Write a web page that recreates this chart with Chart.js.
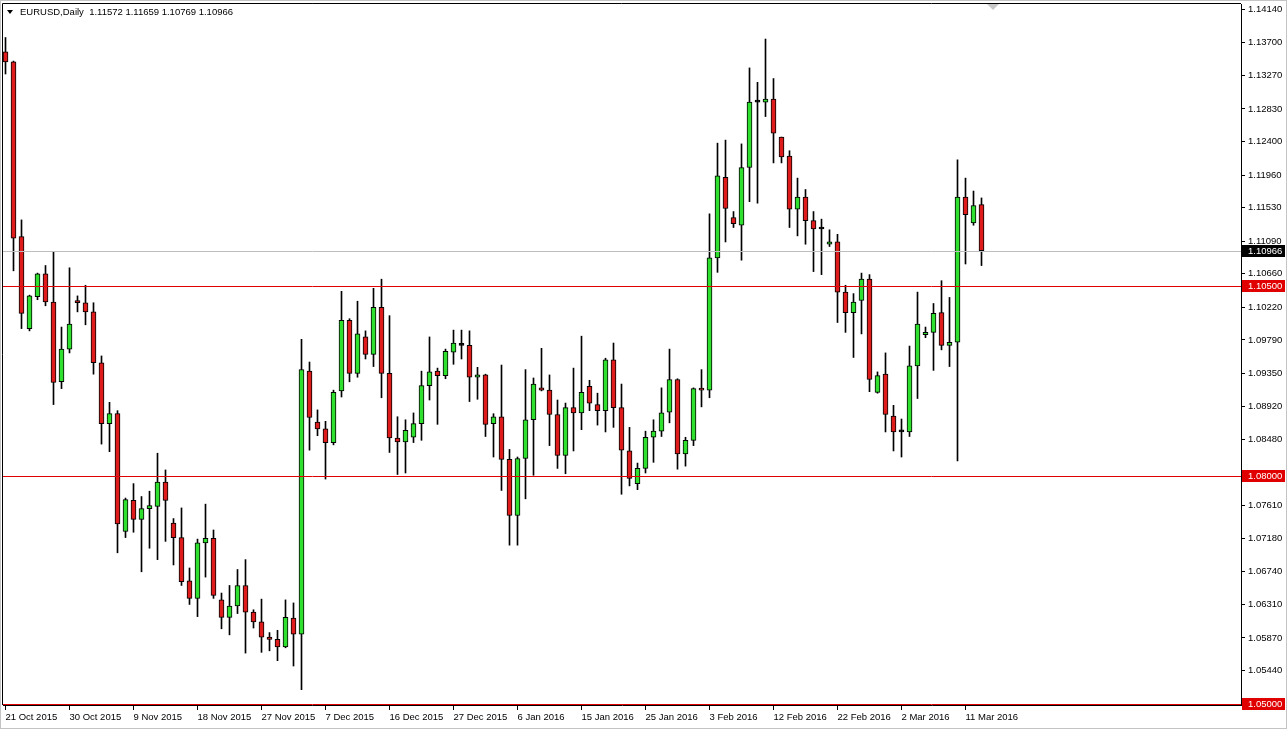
<!DOCTYPE html>
<html>
<head>
<meta charset="utf-8">
<title>EURUSD Daily</title>
<script src="https://cdn.jsdelivr.net/npm/chart.js@4/dist/chart.umd.min.js"></script>
<style>
  html, body { margin: 0; padding: 0; background: #fff; }
  #wrap { width: 1287px; height: 729px; }
</style>
</head>
<body>
<div id="wrap"><canvas id="chart" width="1287" height="729"></canvas></div>
<script>
// EURUSD daily candles, 21 Oct 2015 .. 14 Mar 2016 (MT4 with Sunday bars)
const opens = [
  1.1358, 1.1345, 1.1115, 1.0994, 1.1036, 1.1066, 1.1029, 1.0924, 1.0967, 1.1031,
  1.1028, 1.1016, 1.0949, 1.0869, 1.0882, 1.0727, 1.0768, 1.0743, 1.0757, 1.0760,
  1.0792, 1.0738, 1.0719, 1.0662, 1.0639, 1.0712, 1.0718, 1.0637, 1.0614, 1.0629,
  1.0656, 1.0621, 1.0608, 1.0588, 1.0585, 1.0575, 1.0613, 1.0592, 1.0938, 1.0871,
  1.0862, 1.0844, 1.0912, 1.1005, 1.0935, 1.0983, 1.0960, 1.1022, 1.0935, 1.0850,
  1.0845, 1.0851, 1.0869, 1.0919, 1.0938, 1.0932, 1.0963, 1.0972, 1.0972, 1.0930,
  1.0933, 1.0869, 1.0878, 1.0822, 1.0748, 1.0823, 1.0874, 1.0916, 1.0913, 1.0881,
  1.0827, 1.0890, 1.0883, 1.0918, 1.0894, 1.0886, 1.0953, 1.0890, 1.0833, 1.0790,
  1.0810, 1.0851, 1.0859, 1.0884, 1.0927, 1.0829, 1.0847, 1.0915, 1.0913, 1.1087,
  1.1193, 1.1140, 1.1130, 1.1206, 1.1292, 1.1292, 1.1296, 1.1246, 1.1221, 1.1151,
  1.1167, 1.1136, 1.1125, 1.1105, 1.1108, 1.1042, 1.1015, 1.1031, 1.1059, 1.0910,
  1.0934, 1.0879, 1.0858, 1.0858, 1.0945, 1.0986, 1.0989, 1.1015, 1.0972, 1.0976,
  1.1167, 1.1133, 1.11572
];
const highs = [
  1.1377, 1.1346, 1.1137, 1.1038, 1.1067, 1.1077, 1.1095, 1.0996, 1.1074, 1.1037,
  1.1051, 1.1028, 1.0958, 1.0897, 1.0886, 1.0771, 1.0790, 1.0773, 1.0780, 1.0830,
  1.0808, 1.0744, 1.0758, 1.0679, 1.0717, 1.0763, 1.0729, 1.0646, 1.0656, 1.0677,
  1.0690, 1.0624, 1.0638, 1.0594, 1.0597, 1.0637, 1.0633, 1.0980, 1.0950, 1.0887,
  1.0872, 1.0913, 1.1043, 1.1007, 1.1030, 1.0991, 1.1047, 1.1059, 1.1011, 1.0878,
  1.0874, 1.0883, 1.0938, 1.0983, 1.0942, 1.0967, 1.0992, 1.0992, 1.0991, 1.0943,
  1.0934, 1.0882, 1.0946, 1.0835, 1.0825, 1.0940, 1.0929, 1.0968, 1.0933, 1.0900,
  1.0896, 1.0942, 1.0984, 1.0926, 1.0909, 1.0955, 1.0975, 1.0921, 1.0864, 1.0817,
  1.0859, 1.0874, 1.0916, 1.0967, 1.0928, 1.0851, 1.0916, 1.0940, 1.1145, 1.1238,
  1.1242, 1.1148, 1.1237, 1.1337, 1.1318, 1.1375, 1.1323, 1.1246, 1.1228, 1.1192,
  1.1177, 1.1148, 1.1138, 1.1124, 1.1118, 1.1051, 1.1040, 1.1067, 1.1065, 1.0937,
  1.0962, 1.0893, 1.0875, 1.0971, 1.1042, 1.0996, 1.1027, 1.1057, 1.1035, 1.1216,
  1.1192, 1.1175, 1.11659
];
const lows = [
  1.1329, 1.1070, 1.0994, 1.0991, 1.1032, 1.1024, 1.0894, 1.0915, 1.0962, 1.1016,
  1.0999, 1.0934, 1.0842, 1.0832, 1.0699, 1.0719, 1.0726, 1.0674, 1.0705, 1.0690,
  1.0714, 1.0683, 1.0656, 1.0631, 1.0615, 1.0667, 1.0639, 1.0599, 1.0591, 1.0619,
  1.0567, 1.0600, 1.0568, 1.0570, 1.0557, 1.0574, 1.0550, 1.0519, 1.0834, 1.0853,
  1.0796, 1.0841, 1.0904, 1.0924, 1.0930, 1.0954, 1.0944, 1.0903, 1.0831, 1.0802,
  1.0804, 1.0844, 1.0847, 1.0900, 1.0868, 1.0928, 1.0947, 1.0954, 1.0898, 1.0901,
  1.0852, 1.0825, 1.0781, 1.0709, 1.0709, 1.0770, 1.0801, 1.0912, 1.0840, 1.0810,
  1.0803, 1.0833, 1.0861, 1.0886, 1.0867, 1.0858, 1.0864, 1.0776, 1.0787, 1.0782,
  1.0804, 1.0818, 1.0852, 1.0870, 1.0809, 1.0813, 1.0840, 1.0891, 1.0903, 1.1068,
  1.1108, 1.1127, 1.1084, 1.1161, 1.1159, 1.1273, 1.1212, 1.1212, 1.1127, 1.1116,
  1.1105, 1.1069, 1.1065, 1.1102, 1.1002, 1.0989, 1.0956, 1.0987, 1.0911, 1.0909,
  1.0858, 1.0833, 1.0825, 1.0852, 1.0902, 1.0982, 1.0939, 1.0966, 1.0944, 1.0820,
  1.1079, 1.1130, 1.10769
];
const closes = [
  1.1345, 1.1113, 1.1014, 1.1037, 1.1066, 1.1029, 1.0923, 1.0967, 1.1000, 1.1028,
  1.1016, 1.0949, 1.0869, 1.0882, 1.0737, 1.0769, 1.0743, 1.0757, 1.0761, 1.0792,
  1.0768, 1.0719, 1.0661, 1.0639, 1.0712, 1.0718, 1.0643, 1.0614, 1.0629, 1.0656,
  1.0621, 1.0608, 1.0588, 1.0585, 1.0575, 1.0614, 1.0592, 1.0940, 1.0877, 1.0862,
  1.0844, 1.0910, 1.1005, 1.0935, 1.0987, 1.0960, 1.1022, 1.0935, 1.0850, 1.0845,
  1.0860, 1.0869, 1.0919, 1.0937, 1.0932, 1.0964, 1.0975, 1.0972, 1.0930, 1.0933,
  1.0868, 1.0878, 1.0822, 1.0748, 1.0823, 1.0874, 1.0921, 1.0913, 1.0881, 1.0827,
  1.0890, 1.0883, 1.0910, 1.0896, 1.0886, 1.0953, 1.0890, 1.0834, 1.0797, 1.0810,
  1.0851, 1.0859, 1.0883, 1.0927, 1.0829, 1.0847, 1.0915, 1.0913, 1.1087, 1.1195,
  1.1152, 1.1132, 1.1206, 1.1292, 1.1292, 1.1296, 1.1251, 1.1220, 1.1151, 1.1167,
  1.1136, 1.1125, 1.1125, 1.1108, 1.1042, 1.1015, 1.1029, 1.1059, 1.0927, 1.0932,
  1.0881, 1.0858, 1.0858, 1.0945, 1.1000, 1.0989, 1.1014, 1.0972, 1.0976, 1.1167,
  1.1144, 1.1156, 1.10966
];

const dateLabels = [
  "21 Oct 2015", "30 Oct 2015", "9 Nov 2015", "18 Nov 2015", "27 Nov 2015",
  "7 Dec 2015", "16 Dec 2015", "27 Dec 2015", "6 Jan 2016", "15 Jan 2016",
  "25 Jan 2016", "3 Feb 2016", "12 Feb 2016", "22 Feb 2016", "2 Mar 2016", "11 Mar 2016"
];
const priceTicks = [
  1.14140, 1.13700, 1.13270, 1.12830, 1.12400, 1.11960, 1.11530, 1.11090, 1.10660,
  1.10220, 1.09790, 1.09350, 1.08920, 1.08480, 1.07610, 1.07180, 1.06740,
  1.06310, 1.05870, 1.05440
];
const levels = [1.10500, 1.08000, 1.05000];
const bidPrice = 1.10966;
const header = "EURUSD,Daily  1.11572 1.11659 1.10769 1.10966";

const UP = "#2fe02f", DOWN = "#df1c1c", FONT = "'Liberation Sans', Arial, sans-serif";

let bodyColors = opens.map(function (o, i) {
  if (closes[i] > o) return UP;
  if (closes[i] < o) return DOWN;
  return "#000";
});

// mt4-ish decorations: frame, horizontal levels, price boxes, header
const mt4Plugin = {
  id: "mt4",
  beforeDraw(chart) {
    let ctx = chart.ctx;
    ctx.save();
    ctx.fillStyle = "#fff";
    ctx.fillRect(0, 0, chart.width, chart.height);
    ctx.strokeStyle = "#c4c4c4";
    ctx.lineWidth = 1;
    ctx.strokeRect(0.5, 0.5, chart.width - 1, chart.height - 1);
    ctx.restore();
  },
  afterDatasetsDraw(chart) {
    let ctx = chart.ctx, a = chart.chartArea, y = chart.scales.y;
    ctx.save();
    ctx.lineWidth = 1;
    let by = Math.round(y.getPixelForValue(bidPrice)) + 0.5;
    ctx.strokeStyle = "#bdbdbd";
    ctx.beginPath(); ctx.moveTo(a.left, by); ctx.lineTo(a.right, by); ctx.stroke();
    ctx.strokeStyle = "#e00000";
    levels.forEach(function (v) {
      let py = Math.round(y.getPixelForValue(v)) + 0.5;
      ctx.beginPath(); ctx.moveTo(a.left, py); ctx.lineTo(a.right, py); ctx.stroke();
    });
    ctx.restore();
  },
  afterDraw(chart) {
    let ctx = chart.ctx, a = chart.chartArea, y = chart.scales.y;
    ctx.save();
    // top + left frame
    ctx.strokeStyle = "#000";
    ctx.lineWidth = 1;
    ctx.beginPath();
    ctx.moveTo(a.left - 0.5, a.bottom); ctx.lineTo(a.left - 0.5, a.top - 0.5); ctx.lineTo(a.right, a.top - 0.5);
    ctx.stroke();

    // price boxes on the right axis
    ctx.font = "9.5px " + FONT;
    ctx.textBaseline = "middle";
    function box(v, bg) {
      let py = Math.round(y.getPixelForValue(v));
      ctx.fillStyle = bg;
      ctx.fillRect(a.right + 1, py - 6, 43, 12);
      ctx.fillStyle = "#fff";
      ctx.fillText(v.toFixed(5), a.right + 7, py + 0.5);
    }
    levels.forEach(function (v) { box(v, "#e00000"); });
    box(bidPrice, "#000");

    // header line
    ctx.fillStyle = "#000";
    ctx.beginPath(); ctx.moveTo(7, 10); ctx.lineTo(13, 10); ctx.lineTo(10, 14); ctx.closePath(); ctx.fill();
    ctx.fillText(header, 20, 12.5);

    // chart shift marker
    ctx.fillStyle = "#c8c8c8";
    ctx.beginPath(); ctx.moveTo(987, 4); ctx.lineTo(999, 4); ctx.lineTo(993, 10); ctx.closePath(); ctx.fill();
    ctx.restore();
  },
};

let ctx = document.getElementById("chart").getContext("2d");
window.candleChart = new Chart(ctx, {
  type: "bar",
  data: {
    datasets: [
      {
        label: "body",
        data: opens.map((o, i) => ({ x: i, y: [o, closes[i]] })),
        backgroundColor: bodyColors,
        borderColor: "#000",
        borderWidth: 1,
        borderSkipped: false,
        barThickness: 5,
        minBarLength: 2,
        grouped: false,
        order: 0,
      },
      {
        label: "wick",
        data: lows.map((l, i) => ({ x: i, y: [l, highs[i]] })),
        backgroundColor: "#000",
        borderWidth: 0,
        barThickness: 1,
        grouped: false,
        order: 1,
      },
    ],
  },
  options: {
    responsive: false,
    animation: false,
    events: [],
    layout: { padding: { left: 3, top: 4, right: 0, bottom: 0 } },
    plugins: { legend: { display: false }, tooltip: { enabled: false } },
    scales: {
      x: {
        type: "linear",
        position: "bottom",
        min: -0.3125,
        max: 154.4375,
        offset: false,
        grid: { offset: false, drawOnChartArea: false, drawTicks: true, tickLength: 5, tickColor: "#000" },
        border: { display: true, color: "#000" },
        ticks: {
          autoSkip: false,
          maxRotation: 0,
          align: "start",
          padding: 2,
          color: "#000",
          font: { family: FONT, size: 9.5 },
          callback: (v, idx) => dateLabels[idx],
        },
        afterBuildTicks: (s) => { s.ticks = dateLabels.map((d, k) => ({ value: k * 8 })); },
        afterFit: (s) => {
          s.height = 24;
          s.paddingLeft = 0; s.paddingRight = 0;
        },
      },
      y: {
        type: "linear",
        position: "right",
        bounds: "data",
        min: 1.04987,
        max: 1.14211,
        grid: { drawOnChartArea: false, drawTicks: true, tickLength: 4, tickColor: "#000" },
        border: { display: true, color: "#000" },
        ticks: {
          padding: 3,
          color: "#000",
          font: { family: FONT, size: 9.5 },
          callback: (v) => Number(v).toFixed(5),
        },
        afterBuildTicks: (s) => { s.ticks = priceTicks.map((v) => ({ value: v })); },
        afterFit: (s) => {
          s.width = 46;
          s.paddingTop = 0; s.paddingBottom = 0;
        },
      },
    },
  },
  plugins: [mt4Plugin],
});
</script>
</body>
</html>
